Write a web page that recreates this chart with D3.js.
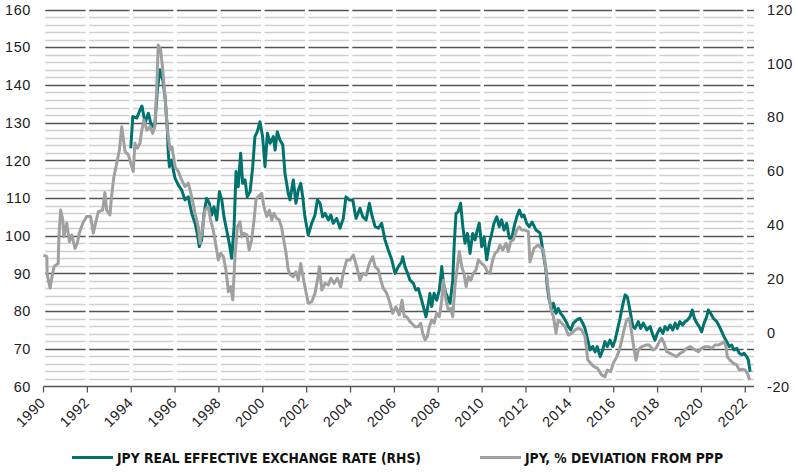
<!DOCTYPE html>
<html>
<head>
<meta charset="utf-8">
<script src="https://cdn.jsdelivr.net/npm/d3@7/dist/d3.min.js"></script>
<style>
  html, body { margin: 0; padding: 0; background: #fff; }
  svg { display: block; }
  .tick-label { font-family: "Liberation Sans", Arial, sans-serif; font-size: 14.5px; letter-spacing: 0.6px; fill: #222; }
  .legend-label { font-family: "Liberation Sans Narrow", "DejaVu Sans Condensed", sans-serif; font-weight: bold; font-size: 14px; fill: #111; }
</style>
</head>
<body>
<svg id="chart" width="798" height="474"></svg>
<script>
// ---- data ----
const leftTicks = [60, 70, 80, 90, 100, 110, 120, 130, 140, 150, 160];
const rightTicks = [-20, 0, 20, 40, 60, 80, 100, 120];
const yearTicks = [1990, 1992, 1994, 1996, 1998, 2000, 2002, 2004, 2006, 2008, 2010, 2012, 2014, 2016, 2018, 2020, 2022];
const legendLabels = ["JPY REAL EFFECTIVE EXCHANGE RATE (RHS)", "JPY, % DEVIATION FROM PPP"];

// JPY real effective exchange rate (index, left scale)
const reerSeries = [[1993.98,123.2],[1994.07,131.6],[1994.25,131.2],[1994.40,133.3],[1994.49,134.4],[1994.63,129.9],[1994.78,132.5],[1994.93,128.9],[1995.08,129.4],[1995.19,138.6],[1995.31,144.0],[1995.44,141.3],[1995.54,136.9],[1995.65,128.0],[1995.69,121.9],[1995.74,118.3],[1995.85,120.1],[1995.92,117.4],[1996.00,115.2],[1996.15,113.4],[1996.30,112.1],[1996.45,109.5],[1996.60,110.3],[1996.76,105.9],[1996.91,103.3],[1997.01,100.6],[1997.10,97.1],[1997.21,98.9],[1997.32,105.9],[1997.44,109.9],[1997.56,108.6],[1997.67,105.5],[1997.77,107.7],[1997.90,104.2],[1998.02,111.7],[1998.13,109.5],[1998.23,105.0],[1998.35,101.5],[1998.47,98.0],[1998.58,94.0],[1998.69,102.4],[1998.78,117.0],[1998.88,113.0],[1998.99,121.9],[1999.08,113.9],[1999.19,114.8],[1999.29,110.3],[1999.42,111.7],[1999.54,118.3],[1999.64,126.3],[1999.75,127.6],[1999.87,130.2],[1999.99,126.3],[2000.10,118.3],[2000.21,127.2],[2000.33,124.5],[2000.48,126.3],[2000.56,122.7],[2000.66,127.6],[2000.78,125.4],[2000.91,124.1],[2001.01,116.6],[2001.16,111.2],[2001.24,109.5],[2001.39,114.8],[2001.51,108.6],[2001.62,112.1],[2001.73,113.9],[2001.82,110.3],[2001.92,105.0],[2002.07,100.2],[2002.23,103.3],[2002.38,105.5],[2002.49,109.5],[2002.61,108.6],[2002.73,105.0],[2002.84,105.9],[2002.99,104.2],[2003.10,105.5],[2003.21,103.3],[2003.37,104.6],[2003.52,102.0],[2003.67,104.6],[2003.79,110.3],[2003.94,109.5],[2004.10,109.5],[2004.25,104.6],[2004.43,107.3],[2004.56,105.0],[2004.71,104.2],[2004.86,108.6],[2004.97,105.5],[2005.12,102.4],[2005.27,102.0],[2005.42,103.3],[2005.57,98.9],[2005.72,96.2],[2005.88,93.6],[2006.03,90.0],[2006.18,91.8],[2006.33,93.1],[2006.38,94.4],[2006.48,91.8],[2006.63,89.6],[2006.71,88.2],[2006.86,87.4],[2006.98,85.6],[2007.09,86.0],[2007.20,83.8],[2007.32,81.2],[2007.44,78.5],[2007.55,82.1],[2007.62,84.7],[2007.70,81.2],[2007.81,84.7],[2007.93,82.9],[2008.05,85.6],[2008.16,91.8],[2008.23,87.4],[2008.35,84.7],[2008.54,82.1],[2008.66,88.2],[2008.73,98.0],[2008.81,105.9],[2008.91,106.4],[2009.02,108.6],[2009.12,102.4],[2009.22,98.0],[2009.33,100.6],[2009.45,95.3],[2009.57,100.6],[2009.68,98.9],[2009.78,101.5],[2009.87,103.3],[2009.98,97.1],[2010.09,99.7],[2010.21,93.6],[2010.33,98.0],[2010.44,100.6],[2010.54,103.3],[2010.67,105.0],[2010.78,102.4],[2010.89,104.2],[2011.00,101.5],[2011.12,103.3],[2011.24,99.3],[2011.35,99.3],[2011.46,102.4],[2011.58,105.0],[2011.70,106.8],[2011.81,105.0],[2011.91,105.5],[2012.03,103.3],[2012.15,102.4],[2012.28,103.6],[2012.46,101.5],[2012.64,100.7],[2012.79,95.3],[2012.91,90.9],[2012.97,86.5],[2013.06,82.9],[2013.17,80.7],[2013.25,82.1],[2013.37,79.4],[2013.47,80.7],[2013.58,79.4],[2013.70,78.5],[2013.83,77.2],[2013.93,75.9],[2014.04,75.0],[2014.16,76.8],[2014.31,77.6],[2014.46,78.1],[2014.59,76.8],[2014.69,75.4],[2014.80,72.8],[2014.92,69.7],[2015.04,70.6],[2015.15,69.2],[2015.25,70.6],[2015.38,67.9],[2015.50,69.7],[2015.60,71.9],[2015.71,70.6],[2015.83,72.3],[2015.96,70.6],[2016.06,72.3],[2016.17,75.0],[2016.29,78.1],[2016.41,81.6],[2016.52,84.3],[2016.62,83.8],[2016.74,80.3],[2016.87,75.9],[2016.97,75.4],[2017.12,77.2],[2017.23,75.4],[2017.35,76.8],[2017.51,75.0],[2017.66,75.9],[2017.78,73.7],[2017.88,72.3],[2017.99,74.1],[2018.11,75.4],[2018.24,74.1],[2018.34,75.9],[2018.45,75.0],[2018.57,76.3],[2018.69,75.0],[2018.80,76.8],[2018.90,75.4],[2019.02,77.2],[2019.15,76.3],[2019.25,77.2],[2019.36,77.6],[2019.48,78.5],[2019.58,80.3],[2019.68,78.1],[2019.79,76.8],[2019.90,75.9],[2020.01,74.5],[2020.12,76.8],[2020.24,78.5],[2020.31,80.3],[2020.42,79.4],[2020.54,78.1],[2020.70,77.2],[2020.82,75.9],[2020.93,74.5],[2021.03,73.2],[2021.15,71.9],[2021.27,70.6],[2021.38,71.0],[2021.48,69.7],[2021.61,70.1],[2021.73,68.8],[2021.84,68.4],[2021.94,68.8],[2022.07,67.9],[2022.14,67.0],[2022.22,63.9]];

// JPY % deviation from PPP (right scale)
const pppSeries = [[1990.00,28.8],[1990.15,28.2],[1990.17,21.4],[1990.30,16.6],[1990.39,20.8],[1990.48,24.5],[1990.67,25.7],[1990.70,35.1],[1990.78,45.5],[1990.88,41.8],[1990.93,35.6],[1991.06,40.7],[1991.18,33.8],[1991.29,36.3],[1991.44,31.3],[1991.54,33.2],[1991.63,36.9],[1991.79,40.6],[1991.97,43.1],[1992.15,43.1],[1992.27,36.9],[1992.39,41.2],[1992.50,44.9],[1992.70,45.5],[1992.80,52.0],[1992.88,45.5],[1993.03,43.7],[1993.11,51.1],[1993.21,57.9],[1993.34,62.9],[1993.46,67.8],[1993.57,76.5],[1993.72,67.2],[1993.87,66.0],[1993.98,62.9],[1994.09,59.8],[1994.17,70.3],[1994.28,68.5],[1994.40,70.3],[1994.48,75.2],[1994.58,79.0],[1994.71,75.2],[1994.86,76.5],[1994.98,74.0],[1995.08,76.5],[1995.16,90.1],[1995.23,106.8],[1995.34,105.0],[1995.44,97.5],[1995.54,87.6],[1995.65,75.2],[1995.77,67.8],[1995.86,69.0],[1996.00,61.6],[1996.15,59.8],[1996.30,56.7],[1996.45,54.2],[1996.60,55.5],[1996.76,50.5],[1996.91,44.3],[1997.06,39.3],[1997.14,33.2],[1997.26,39.3],[1997.36,45.5],[1997.51,46.8],[1997.62,41.8],[1997.74,38.1],[1997.87,31.9],[1997.97,27.0],[1998.08,29.5],[1998.20,28.2],[1998.32,23.3],[1998.43,15.2],[1998.54,17.1],[1998.63,12.1],[1998.73,28.2],[1998.84,39.3],[1998.96,41.2],[1999.04,35.6],[1999.14,36.9],[1999.27,36.3],[1999.38,30.7],[1999.49,34.4],[1999.60,41.8],[1999.69,49.3],[1999.79,50.5],[1999.95,51.7],[2000.05,46.8],[2000.18,43.1],[2000.30,45.5],[2000.41,41.8],[2000.51,44.3],[2000.63,42.5],[2000.75,41.8],[2000.86,38.9],[2000.93,35.6],[2001.06,29.5],[2001.16,23.3],[2001.27,21.4],[2001.39,20.8],[2001.51,22.6],[2001.62,19.5],[2001.73,25.7],[2001.82,21.4],[2001.92,17.1],[2002.07,10.9],[2002.23,11.5],[2002.38,14.6],[2002.49,19.5],[2002.58,24.5],[2002.69,15.8],[2002.84,18.3],[2002.99,17.7],[2003.10,20.2],[2003.25,18.3],[2003.40,20.2],[2003.55,17.1],[2003.70,23.3],[2003.83,27.0],[2003.98,27.0],[2004.13,28.8],[2004.28,24.5],[2004.43,19.5],[2004.56,22.0],[2004.71,21.4],[2004.86,25.7],[2005.01,28.2],[2005.12,24.5],[2005.27,23.3],[2005.38,19.5],[2005.49,16.5],[2005.65,14.6],[2005.80,10.9],[2005.92,7.2],[2006.07,9.6],[2006.22,6.6],[2006.35,12.0],[2006.45,6.0],[2006.56,5.9],[2006.71,4.1],[2006.79,3.5],[2006.94,2.2],[2007.09,2.2],[2007.20,3.5],[2007.29,-0.2],[2007.40,-2.7],[2007.50,-1.5],[2007.59,2.2],[2007.70,4.7],[2007.81,3.5],[2007.93,7.2],[2008.05,5.9],[2008.16,12.1],[2008.23,19.5],[2008.35,12.1],[2008.46,8.4],[2008.57,9.0],[2008.66,5.9],[2008.76,17.1],[2008.87,24.5],[2008.96,30.1],[2009.07,24.5],[2009.17,22.0],[2009.27,17.1],[2009.37,20.8],[2009.48,19.5],[2009.60,22.0],[2009.72,23.3],[2009.83,27.0],[2009.98,25.7],[2010.13,24.5],[2010.24,22.6],[2010.36,22.0],[2010.48,27.0],[2010.59,29.5],[2010.69,30.1],[2010.82,32.5],[2010.94,30.7],[2011.09,33.2],[2011.19,30.1],[2011.30,33.8],[2011.42,34.4],[2011.58,38.1],[2011.70,39.3],[2011.81,38.1],[2011.96,38.1],[2012.11,37.5],[2012.18,26.3],[2012.37,31.4],[2012.55,32.5],[2012.79,30.7],[2012.91,23.3],[2013.02,15.8],[2013.13,9.0],[2013.25,5.9],[2013.37,-0.2],[2013.47,4.7],[2013.63,3.5],[2013.78,2.2],[2013.93,-0.9],[2014.09,-0.2],[2014.24,1.0],[2014.39,1.6],[2014.54,1.0],[2014.69,-1.5],[2014.82,-10.2],[2014.95,-11.4],[2015.10,-12.6],[2015.25,-13.2],[2015.45,-15.7],[2015.60,-16.4],[2015.71,-13.9],[2015.86,-14.5],[2015.98,-11.4],[2016.14,-8.9],[2016.26,-6.4],[2016.37,-2.7],[2016.47,1.0],[2016.59,4.7],[2016.71,5.3],[2016.82,-0.2],[2016.93,-6.4],[2017.02,-10.2],[2017.12,-6.4],[2017.28,-5.2],[2017.47,-4.6],[2017.62,-4.6],[2017.78,-6.4],[2017.93,-5.8],[2018.08,-3.4],[2018.19,-2.1],[2018.30,-4.0],[2018.42,-7.1],[2018.57,-7.7],[2018.72,-8.3],[2018.87,-8.9],[2019.02,-7.7],[2019.17,-7.1],[2019.33,-5.8],[2019.48,-5.2],[2019.60,-5.8],[2019.71,-6.4],[2019.86,-7.1],[2020.01,-5.8],[2020.16,-5.2],[2020.31,-5.2],[2020.47,-5.8],[2020.62,-4.6],[2020.77,-4.6],[2020.93,-4.0],[2021.03,-3.4],[2021.12,-5.2],[2021.18,-8.9],[2021.30,-10.2],[2021.46,-11.4],[2021.61,-12.0],[2021.73,-13.9],[2021.84,-13.6],[2021.99,-13.9],[2022.09,-15.1],[2022.21,-17.6]];

// ---- drawing ----
const svg = d3.select("#chart");
const plotLeft = 43.5, plotRight = 754, plotTop = 9.5, plotBottom = 386.5;
const x = d3.scaleLinear().domain([1990, 2022]).range([43.5, 745.3]);
const yL = d3.scaleLinear().domain([60, 160]).range([plotBottom, plotTop]);
const yR = d3.scaleLinear().domain([-20, 120]).range([plotBottom, plotTop]);

const TEAL = "#00736e", GREY = "#a0a0a0";

// minor gridlines every 2 units, majors every 10
const minorVals = d3.range(62, 160, 2).filter(v => v % 10 !== 0);
const majorVals = leftTicks.filter(v => v > 60);
const grid = svg.append("g");
grid.selectAll("line.minor").data(minorVals).join("line")
  .attr("x1", plotLeft).attr("x2", plotRight)
  .attr("y1", d => Math.round(yL(d)) + 0.5).attr("y2", d => Math.round(yL(d)) + 0.5)
  .attr("stroke", "#cfcfcf").attr("stroke-width", 1.3);
grid.selectAll("line.major").data(majorVals).join("line")
  .attr("x1", plotLeft).attr("x2", plotRight)
  .attr("y1", d => Math.round(yL(d)) + 0.5).attr("y2", d => Math.round(yL(d)) + 0.5)
  .attr("stroke", "#555").attr("stroke-width", 1.3);

// white vertical separators at year ticks
grid.selectAll("line.sep").data(yearTicks).join("line")
  .attr("x1", d => x(d)).attr("x2", d => x(d))
  .attr("y1", plotTop - 2).attr("y2", plotBottom - 1)
  .attr("stroke", "#fff").attr("stroke-width", 3.5);

// bottom axis
const xAxis = svg.append("g");
xAxis.append("line").attr("x1", plotLeft).attr("x2", plotRight)
  .attr("y1", plotBottom).attr("y2", plotBottom)
  .attr("stroke", "#555").attr("stroke-width", 1.3);
xAxis.selectAll("line.tk").data(yearTicks).join("line")
  .attr("x1", d => x(d)).attr("x2", d => x(d))
  .attr("y1", plotBottom).attr("y2", plotBottom + 6)
  .attr("stroke", "#555").attr("stroke-width", 1.3);
xAxis.selectAll("text").data(yearTicks).join("text")
  .attr("class", "tick-label")
  .attr("text-anchor", "end")
  .attr("transform", d => `translate(${x(d) + 3},${plotBottom + 17}) rotate(-45)`)
  .text(d => d);

// left axis labels
svg.append("g").selectAll("text").data(leftTicks).join("text")
  .attr("class", "tick-label")
  .attr("text-anchor", "end")
  .attr("x", 31).attr("y", d => yL(d)).attr("dy", "0.36em")
  .text(d => d);

// right axis labels
svg.append("g").selectAll("text").data(rightTicks).join("text")
  .attr("class", "tick-label")
  .attr("text-anchor", "start")
  .attr("x", 767).attr("y", d => yR(d)).attr("dy", "0.36em")
  .text(d => d);

// lines
const lineL = d3.line().x(d => x(d[0])).y(d => yL(d[1]));
const lineR = d3.line().x(d => x(d[0])).y(d => yR(d[1]));
svg.append("path").datum(reerSeries).attr("d", lineL)
  .attr("fill", "none").attr("stroke", TEAL).attr("stroke-width", 3)
  .attr("stroke-linejoin", "round");
svg.append("path").datum(pppSeries).attr("d", lineR)
  .attr("fill", "none").attr("stroke", GREY).attr("stroke-width", 3)
  .attr("stroke-linejoin", "round");

// legend
const legend = svg.append("g");
const legendItems = [
  {label: legendLabels[0], color: TEAL, x0: 72, x1: 113, tx: 117, w: 304},
  {label: legendLabels[1], color: GREY, x0: 480, x1: 521, tx: 525, w: 198}
];
legendItems.forEach(it => {
  legend.append("line").attr("x1", it.x0).attr("x2", it.x1)
    .attr("y1", 457.5).attr("y2", 457.5)
    .attr("stroke", it.color).attr("stroke-width", 3);
  legend.append("text").attr("class", "legend-label")
    .attr("x", it.tx).attr("y", 462.5)
    .attr("textLength", it.w).attr("lengthAdjust", "spacingAndGlyphs")
    .text(it.label);
});
</script>
</body>
</html>
